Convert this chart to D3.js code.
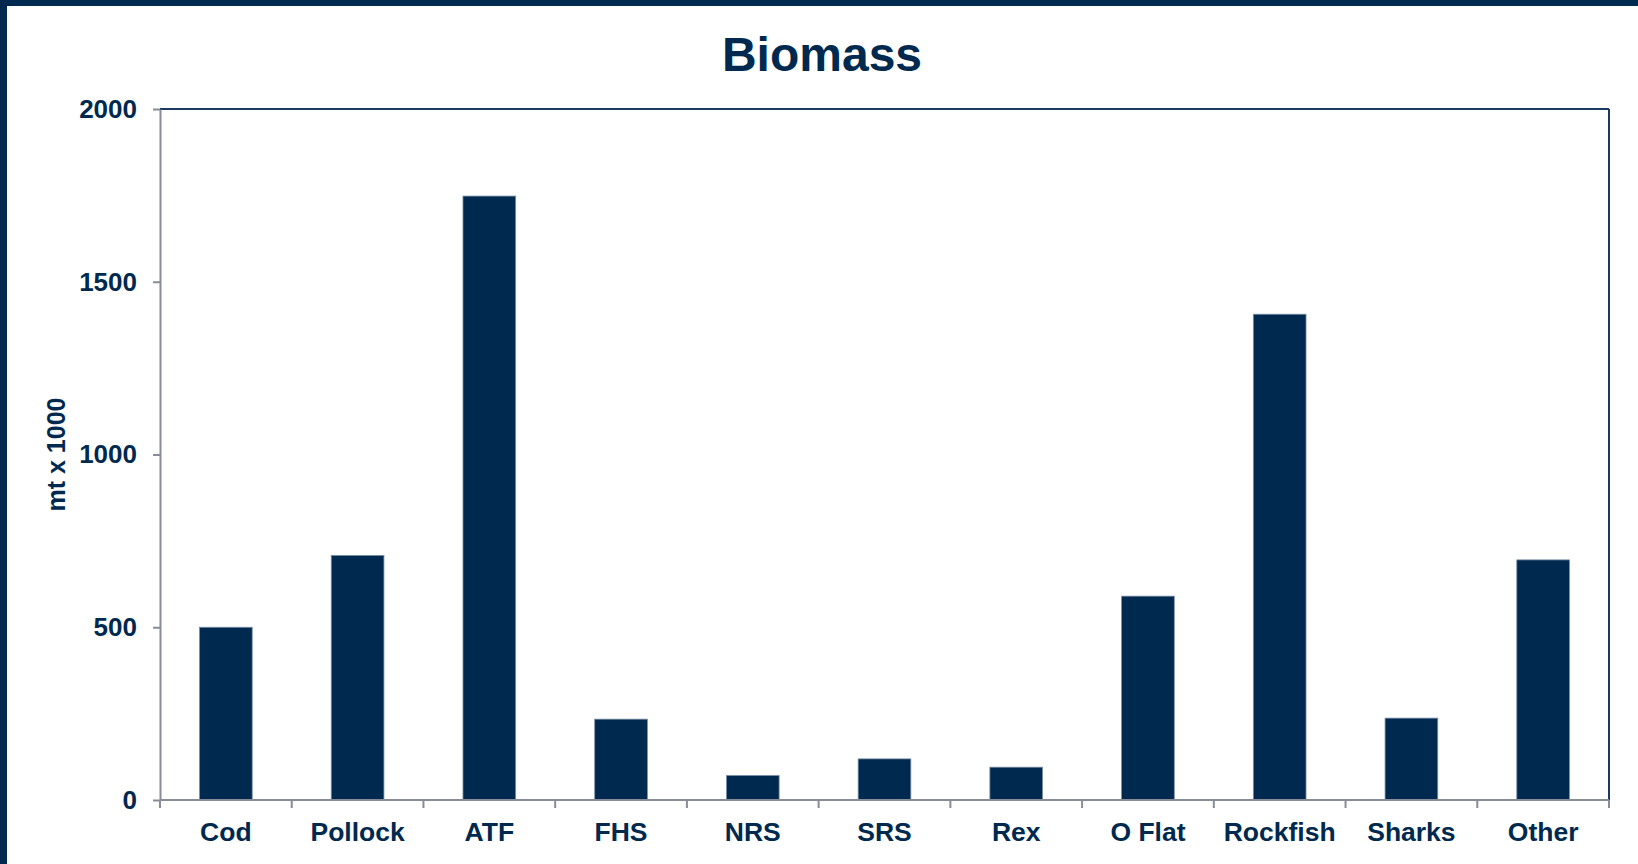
<!DOCTYPE html>
<html>
<head>
<meta charset="utf-8">
<script src="https://cdn.jsdelivr.net/npm/d3@7"></script>
<style>
  html, body { margin: 0; padding: 0; background: #ffffff; }
  svg { display: block; font-family: "Liberation Sans", Arial, sans-serif; }
</style>
</head>
<body>
<svg id="chart" width="1638" height="864"></svg>
<script>
// Biomass by species group (thousand metric tons)
const categories = ["Cod", "Pollock", "ATF", "FHS", "NRS", "SRS", "Rex", "O Flat", "Rockfish", "Sharks", "Other"];
const biomass = [500, 708, 1748, 234, 71, 119, 95, 590, 1406, 237, 695];
const yTicks = [0, 500, 1000, 1500, 2000];

const navy = "#00294f";
const axisGray = "#878c97";

const svg = d3.select("#chart");
const W = 1638, H = 864;
const plot = { left: 160, right: 1609, top: 109, bottom: 800 };

// page frame: top and left bands
svg.append("rect").attr("x", 0).attr("y", 0).attr("width", W).attr("height", 6).attr("fill", navy);
svg.append("rect").attr("x", 0).attr("y", 0).attr("width", 7).attr("height", H).attr("fill", navy);

// title
svg.append("text")
  .attr("x", 822).attr("y", 71)
  .attr("text-anchor", "middle")
  .attr("font-size", 48).attr("font-weight", "bold")
  .attr("fill", navy)
  .text("Biomass");

const x = d3.scaleBand()
  .domain(categories)
  .range([plot.left, plot.right])
  .paddingInner(0.6)
  .paddingOuter(0.3);

const y = d3.scaleLinear()
  .domain([0, 2000])
  .range([plot.bottom, plot.top]);

// plot frame: top and right edges
svg.append("line")
  .attr("x1", plot.left).attr("x2", plot.right)
  .attr("y1", plot.top).attr("y2", plot.top)
  .attr("stroke", "#1a3a60").attr("stroke-width", 2);
svg.append("line")
  .attr("x1", plot.right).attr("x2", plot.right)
  .attr("y1", plot.top).attr("y2", plot.bottom)
  .attr("stroke", "#1a3a60").attr("stroke-width", 2);

// bars
svg.append("g")
  .selectAll("rect")
  .data(categories.map((c, i) => ({ c, v: biomass[i] })))
  .join("rect")
  .attr("x", d => x(d.c))
  .attr("y", d => y(d.v))
  .attr("width", x.bandwidth())
  .attr("height", d => y(0) - y(d.v))
  .attr("fill", navy)
  .attr("stroke", "#7a8fa8")
  .attr("stroke-width", 0.8);

// y axis
const yAxis = d3.axisLeft(y)
  .tickValues(yTicks)
  .tickSize(7)
  .tickSizeOuter(0)
  .tickPadding(16)
  .tickFormat(d3.format("d"));
const gy = svg.append("g")
  .attr("transform", `translate(${plot.left},0)`)
  .call(yAxis);
gy.select(".domain").attr("stroke", axisGray).attr("stroke-width", 2);
gy.selectAll(".tick line").attr("stroke", axisGray).attr("stroke-width", 2);
gy.selectAll(".tick text")
  .attr("fill", navy)
  .attr("font-size", 26)
  .attr("font-weight", "bold")
  .attr("font-family", "Liberation Sans, Arial, sans-serif");

// x axis: labels centred under bars, ticks at category boundaries
const step = x.step();
const boundaries = categories.map(c => x(c) - (step - x.bandwidth()) / 2).concat([plot.right]);
const gx = svg.append("g");
gx.append("line")
  .attr("x1", plot.left).attr("x2", plot.right)
  .attr("y1", plot.bottom).attr("y2", plot.bottom)
  .attr("stroke", axisGray).attr("stroke-width", 2);
gx.selectAll("line.tick")
  .data(boundaries)
  .join("line")
  .attr("class", "tick")
  .attr("x1", d => d).attr("x2", d => d)
  .attr("y1", plot.bottom).attr("y2", plot.bottom + 8)
  .attr("stroke", axisGray).attr("stroke-width", 2);
gx.selectAll("text")
  .data(categories)
  .join("text")
  .attr("x", d => x(d) + x.bandwidth() / 2)
  .attr("y", 841)
  .attr("text-anchor", "middle")
  .attr("font-size", 26.5)
  .attr("font-weight", "bold")
  .attr("fill", navy)
  .text(d => d);

// y axis title
svg.append("text")
  .attr("transform", `translate(65,${(plot.top + plot.bottom) / 2}) rotate(-90)`)
  .attr("text-anchor", "middle")
  .attr("font-size", 25)
  .attr("font-weight", "bold")
  .attr("fill", navy)
  .text("mt x 1000");
</script>
</body>
</html>
